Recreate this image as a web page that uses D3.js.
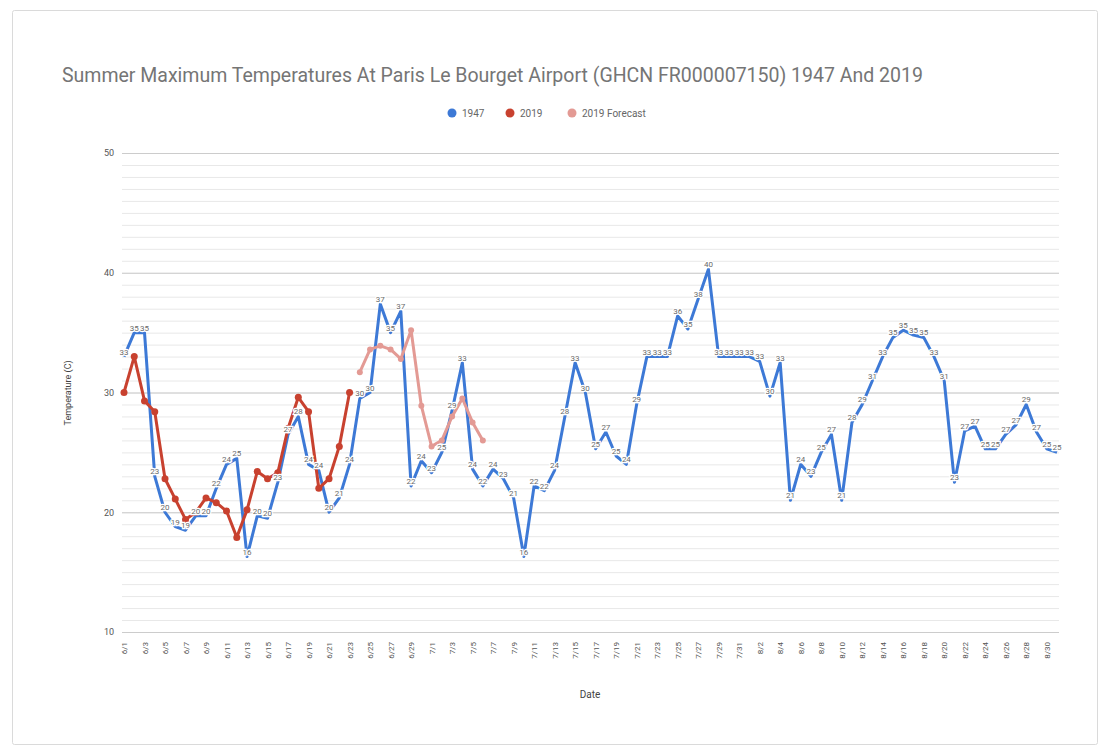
<!DOCTYPE html>
<html>
<head>
<meta charset="utf-8">
<script src="https://cdn.jsdelivr.net/npm/d3@7"></script>
<style>
body { margin: 0; background: #fff; font-family: Roboto, "Noto Sans", sans-serif; }
</style>
</head>
<body>
<div id="chart"></div>
<script>
var width = 1107;
var height = 753;

// categories: every day from 6/1 to 8/31
var monthDays = [[6, 30], [7, 31], [8, 31]];
var dates = [];
monthDays.forEach(function(m) {
	for (var d = 1; d <= m[1]; d++) dates.push(m[0] + "/" + d);
});
var tickLabels = dates.filter(function(d, i) { return i % 2 == 0; });

var temps1947 = [33, 35, 35, 23, 20, 18.8, 18.5, 19.7, 19.7, 22,
	24, 24.5, 16.3, 19.7, 19.5, 22.5, 26.5, 28, 24, 23.5,
	20, 21.2, 24, 29.5, 30, 37.4, 35, 36.8, 22.2, 24.3,
	23.3, 25, 28.5, 32.5, 23.6, 22.2, 23.6, 22.8, 21.2, 16.3,
	22.2, 21.8, 23.5, 28, 32.5, 30, 25.3, 26.7, 24.7, 24,
	29, 33, 33, 33, 36.4, 35.3, 37.8, 40.3, 33, 33,
	33, 33, 32.6, 29.7, 32.5, 21, 24, 23, 25, 26.5,
	21, 27.5, 29, 31, 33, 34.6, 35.2, 34.8, 34.6, 33,
	31, 22.5, 26.8, 27.2, 25.3, 25.3, 26.5, 27.3, 29, 26.7,
	25.3, 25];
var temps2019 = [30, 33, 29.3, 28.4, 22.8, 21.1, 19.4, 20, 21.2, 20.8,
	20.1, 17.9, 20.2, 23.4, 22.8, 23.3, 27, 29.6, 28.4, 22,
	22.8, 25.5, 30];
var forecast2019 = [31.7, 33.6, 33.9, 33.6, 32.8, 35.2, 28.9, 25.5, 26, 28,
	29.5, 27.5, 26];
var forecastStart = 23;

var yTicks = [10, 20, 30, 40, 50];
var seriesNames = ["1947", "2019", "2019 Forecast"];
var seriesColors = ["#3d79d6", "#c8412f", "#e39a94"];

var svg = d3.select("#chart").append("svg")
	.attr("width", width)
	.attr("height", height);

// card border
svg.append("rect")
	.attr("x", 12.5).attr("y", 10.5)
	.attr("width", 1085).attr("height", 734)
	.attr("rx", 2)
	.attr("fill", "#fff")
	.attr("stroke", "#dadada");

var x = d3.scalePoint()
	.domain(dates)
	.range([124, 1057]);
var y = d3.scaleLinear()
	.domain([10, 50])
	.range([632, 153]);
var plotLeft = 122, plotRight = 1059;

// minor gridlines
svg.append("g")
	.attr("transform", "translate(" + plotLeft + ",0)")
	.call(d3.axisLeft(y).tickValues(d3.range(11, 50, 1)).tickSize(-(plotRight - plotLeft)).tickFormat(""))
	.call(function(g) {
		g.select(".domain").remove();
		g.selectAll("line").attr("stroke", "#e8e8e8");
	});

// major gridlines + labels
svg.append("g")
	.attr("transform", "translate(" + plotLeft + ",0)")
	.call(d3.axisLeft(y).tickValues(yTicks).tickSize(-(plotRight - plotLeft)).tickPadding(8))
	.call(function(g) {
		g.select(".domain").remove();
		g.selectAll("line").attr("stroke", "#cccccc");
		g.selectAll("text")
			.attr("fill", "#555")
			.style("font-family", "Roboto, sans-serif")
			.style("font-size", "9px");
	});

// x axis
svg.append("g")
	.attr("transform", "translate(0,632)")
	.call(d3.axisBottom(x).tickValues(tickLabels).tickSize(0))
	.call(function(g) {
		g.select(".domain").remove();
		g.selectAll("text")
			.attr("transform", "rotate(-90)")
			.attr("x", -10)
			.attr("y", 0)
			.attr("dy", "0.32em")
			.attr("text-anchor", "end")
			.attr("fill", "#555")
			.style("font-family", "Roboto, sans-serif")
			.style("font-size", "8px");
	});

var line = d3.line()
	.defined(function(d) { return d.v != null; })
	.x(function(d) { return x(dates[d.i]); })
	.y(function(d) { return y(d.v); });

var data1947 = temps1947.map(function(v, i) { return {i: i, v: v}; });
var data2019 = temps2019.map(function(v, i) { return {i: i, v: v}; });
var dataForecast = forecast2019.map(function(v, i) { return {i: i + forecastStart, v: v}; });

svg.append("path").datum(data1947)
	.attr("d", line).attr("fill", "none")
	.attr("stroke", seriesColors[0]).attr("stroke-width", 3)
	.attr("stroke-linejoin", "round");

svg.append("path").datum(dataForecast)
	.attr("d", line).attr("fill", "none")
	.attr("stroke", seriesColors[2]).attr("stroke-width", 3)
	.attr("stroke-linejoin", "round");
svg.selectAll(".fc-dot").data(dataForecast).enter()
	.append("circle").attr("class", "fc-dot")
	.attr("cx", function(d) { return x(dates[d.i]); })
	.attr("cy", function(d) { return y(d.v); })
	.attr("r", 3)
	.attr("fill", seriesColors[2]);

svg.append("path").datum(data2019)
	.attr("d", line).attr("fill", "none")
	.attr("stroke", seriesColors[1]).attr("stroke-width", 3)
	.attr("stroke-linejoin", "round");
svg.selectAll(".r-dot").data(data2019).enter()
	.append("circle").attr("class", "r-dot")
	.attr("cx", function(d) { return x(dates[d.i]); })
	.attr("cy", function(d) { return y(d.v); })
	.attr("r", 3.5)
	.attr("fill", seriesColors[1]);

// data labels on 1947
svg.selectAll(".lbl").data(data1947).enter()
	.append("text").attr("class", "lbl")
	.attr("x", function(d) { return x(dates[d.i]); })
	.attr("y", function(d) { return y(d.v) - 2; })
	.attr("text-anchor", "middle")
	.attr("fill", "#6a6a6a")
	.attr("stroke", "#fff")
	.attr("stroke-width", 2.5)
	.attr("paint-order", "stroke")
	.style("font-family", "Roboto, sans-serif")
	.style("font-size", "8px")
	.text(function(d) { return Math.round(d.v); });

// title
svg.append("text")
	.attr("x", 62).attr("y", 82)
	.attr("fill", "#757575")
	.style("font-family", "Roboto, sans-serif")
	.style("font-size", "19.5px")
	.text("Summer Maximum Temperatures At Paris Le Bourget Airport (GHCN FR000007150) 1947 And 2019");

// legend
var legendX = [452, 510, 572];
var legend = svg.selectAll(".legend").data(seriesNames).enter()
	.append("g").attr("class", "legend")
	.attr("transform", function(d, i) { return "translate(" + legendX[i] + ",113)"; });
legend.append("circle").attr("r", 4.5)
	.attr("fill", function(d, i) { return seriesColors[i]; });
legend.append("text")
	.attr("x", 10).attr("dy", "0.35em")
	.attr("fill", "#666")
	.style("font-family", "Roboto, sans-serif")
	.style("font-size", "10px")
	.text(function(d) { return d; });

// axis titles
svg.append("text")
	.attr("x", 590).attr("y", 698)
	.attr("text-anchor", "middle")
	.attr("fill", "#444")
	.style("font-family", "Roboto, sans-serif")
	.style("font-size", "10px")
	.text("Date");
svg.append("text")
	.attr("transform", "translate(71,393) rotate(-90)")
	.attr("text-anchor", "middle")
	.attr("fill", "#444")
	.style("font-family", "Roboto, sans-serif")
	.style("font-size", "9px")
	.text("Temperature (C)");
</script>
</body>
</html>
